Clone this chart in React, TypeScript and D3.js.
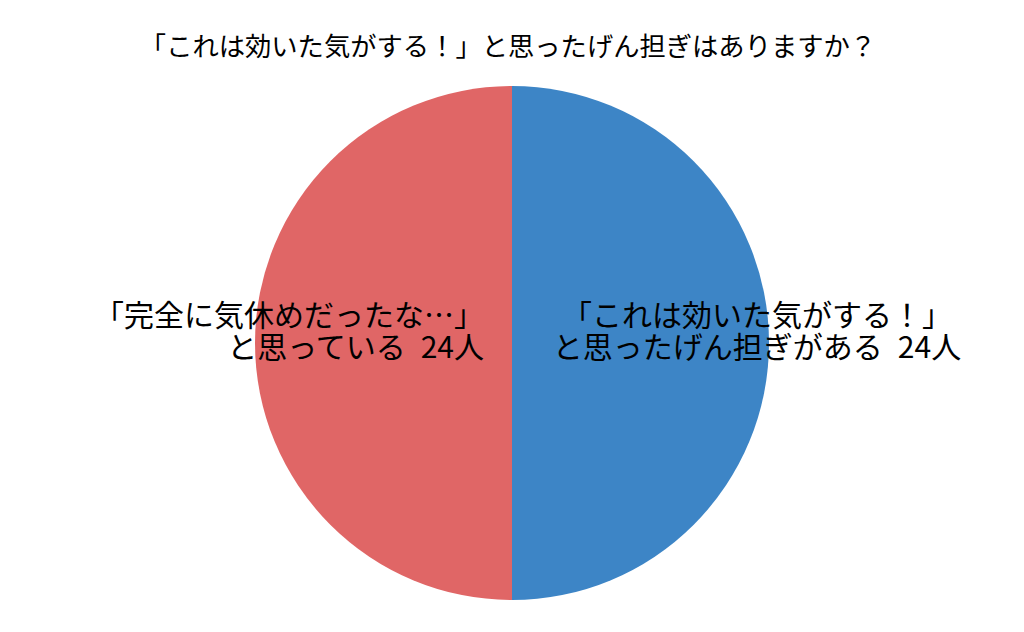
import * as d3 from "d3";
import React from "react";

// survey answers
const categories = ["「これは効いた気がする！」と思ったげん担ぎがある", "「完全に気休めだったな…」と思っている"];
const counts = [24, 24];
const colors = ["#3d85c6", "#e06666"];
const labelLines = [
  ["「これは効いた気がする！」", "と思ったげん担ぎがある\u200224人"],
  ["「完全に気休めだったな…」", "と思っている\u200224人"],
];
const title = "「これは効いた気がする！」と思ったげん担ぎはありますか？";

const width = 1024;
const height = 632;
const cx = 512;
const cy = 343;
const radius = 257;
const font = "'Noto Sans CJK JP', 'Noto Sans', sans-serif";

export default function App() {
  const pie = d3
    .pie<number>()
    .sort(null)
    .value((d) => d);
  const arcs = pie(counts);
  const arc = d3.arc<d3.PieArcDatum<number>>().innerRadius(0).outerRadius(radius);

  // label placement: right slice centered, left slice right-aligned
  const labelPos = [
    { x: cx + 245, anchor: "middle" },
    { x: cx - 28, anchor: "end" },
  ];

  return (
    <svg
      width={width}
      height={height}
      style={{ position: "absolute", left: 0, top: 0, background: "#fff" }}
    >
      <text
        x={508}
        y={56}
        textAnchor="middle"
        fontFamily={font}
        fontSize={26.3}
        fill="#000"
      >
        {title}
      </text>
      <g transform={`translate(${cx},${cy})`}>
        {arcs.map((a, i) => (
          <path key={categories[i]} d={arc(a) ?? ""} fill={colors[i]} />
        ))}
      </g>
      {labelLines.map((lines, i) => (
        <text
          key={i}
          textAnchor={labelPos[i].anchor}
          fontFamily={font}
          fontSize={30}
          fill="#000"
        >
          {lines.map((l, j) => (
            <tspan key={j} x={labelPos[i].x} y={326 + j * 32}>
              {l}
            </tspan>
          ))}
        </text>
      ))}
    </svg>
  );
}
